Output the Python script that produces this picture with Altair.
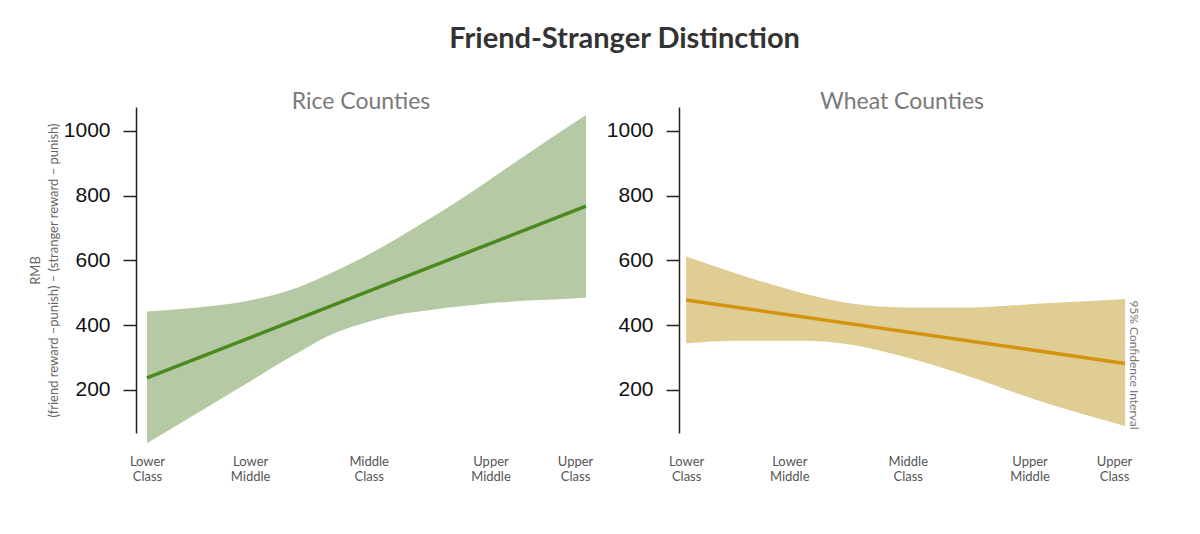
import altair as alt
import pandas as pd

# ---------------- data ----------------
class_label_pos = [1.0, 1.94, 3.02, 4.13, 4.90]
class_label_line1 = ["Lower", "Lower", "Middle", "Upper", "Upper"]
class_label_line2 = ["Class", "Middle", "Class", "Middle", "Class"]

rice_x = [1.0, 1.456, 1.911, 2.367, 2.670, 2.974, 3.278, 3.582, 3.885, 4.189, 4.493, 5.0]
rice_upper = [442, 455, 475, 516, 560, 610, 668, 730, 795, 865, 935, 1049]
rice_lower = [35, 128, 221, 313, 370, 406, 432, 447, 459, 470, 476, 485]
rice_line_x = [1.0, 5.0]
rice_line_y = [237, 768]

wheat_x = [1.0, 1.456, 2.065, 2.521, 2.977, 3.586, 4.194, 5.0]
wheat_upper = [612, 560, 499, 466, 455, 455, 466, 481]
wheat_lower = [344, 352, 352, 339, 303, 241, 169, 89]
wheat_line_x = [1.0, 5.0]
wheat_line_y = [478, 282]

y_ticks = [200, 400, 600, 800, 1000]
y_domain = [67, 1074]

ci_label = ["95% Confidence Interval"]
ci_x = [5.0]
ci_y = [277]

# ---------------- helpers ----------------
def build_label_expr():
    n = len(class_label_pos)
    expr = f"['{class_label_line1[-1]}', '{class_label_line2[-1]}']"
    for i in reversed(range(n - 1)):
        mid = (class_label_pos[i] + class_label_pos[i + 1]) / 2
        expr = (f"datum.value < {mid:.3f} ? ['{class_label_line1[i]}', "
                f"'{class_label_line2[i]}'] : ") + expr
    return expr

LABEL_EXPR = build_label_expr()


def panel(xs, up, lo, lx, ly, band_color, line_color, title, x_start, width,
          y_title=None, with_ci=False):
    band_df = pd.DataFrame({"c": xs, "upper": up, "lower": lo})
    line_df = pd.DataFrame({"c": lx, "v": ly})

    xscale = alt.Scale(domain=[x_start, 5.0], nice=False, zero=False)
    yscale = alt.Scale(domain=y_domain, nice=False, zero=False)

    xaxis = alt.Axis(values=class_label_pos, labelExpr=LABEL_EXPR, domain=False,
                     ticks=False, grid=False, title=None, labelPadding=22,
                     labelFont="Lato", labelFontSize=13, labelColor="#555555",
                     labelLineHeight=15, labelFlush=False, labelOverlap=False)
    yaxis_kwargs = dict(values=y_ticks, format="d", tickSize=13, tickColor="#222222",
                        tickWidth=1.5, domainColor="#222222", domainWidth=1.5,
                        labelFont="Liberation Sans", labelFontSize=21,
                        labelColor="#111111", labelPadding=13, grid=False)
    if y_title is not None:
        yaxis = alt.Axis(title=y_title, titleFont="Lato", titleFontSize=13,
                         titleColor="#666666", titleFontWeight="normal",
                         titlePadding=3, titleLineHeight=18, **yaxis_kwargs)
    else:
        yaxis = alt.Axis(title=None, **yaxis_kwargs)

    band = alt.Chart(band_df).mark_area(color=band_color, opacity=1,
                                        interpolate="monotone").encode(
        x=alt.X("c:Q", scale=xscale, axis=xaxis),
        y=alt.Y("upper:Q", scale=yscale, axis=yaxis),
        y2="lower:Q",
    )
    line = alt.Chart(line_df).mark_line(color=line_color, strokeWidth=3.5).encode(
        x=alt.X("c:Q", scale=xscale),
        y=alt.Y("v:Q", scale=yscale),
    )
    layers = [band, line]
    if with_ci:
        ci_df = pd.DataFrame({"c": ci_x, "v": ci_y, "t": ci_label})
        ci = alt.Chart(ci_df).mark_text(angle=90, align="center", baseline="bottom",
                                        font="Lato", fontSize=12, color="#777777",
                                        dy=-2).encode(
            x=alt.X("c:Q", scale=xscale),
            y=alt.Y("v:Q", scale=yscale),
            text="t:N",
        )
        layers.append(ci)

    return alt.layer(*layers).properties(
        width=width, height=326,
        title=alt.TitleParams(title, fontSize=23, font="Lato", color="#7a7a7a",
                              fontWeight="normal", anchor="middle",
                              baseline="alphabetic", offset=-25),
    )


left = panel(rice_x, rice_upper, rice_lower, rice_line_x, rice_line_y,
             "#b4c9a4", "#4c8a1f", "Rice Counties", 0.9, 450,
             y_title=["RMB", "(friend reward \u2013punish) \u2013 (stranger reward \u2013 punish)"])
right = panel(wheat_x, wheat_upper, wheat_lower, wheat_line_x, wheat_line_y,
              "#e0cd94", "#d39510", "Wheat Counties", 0.935, 446, with_ci=True)

chart = alt.hconcat(left, right, spacing=13).properties(
    title=alt.TitleParams("Friend-Stranger Distinction", fontSize=29, font="Lato",
                          fontWeight="bold", color="#333333", anchor="middle",
                          offset=37, dx=40),
    padding={"left": 21, "top": 17, "right": 5, "bottom": 5},
).configure_view(stroke=None)

chart.save("out.html", embed_options={"renderer": "svg", "actions": False})
